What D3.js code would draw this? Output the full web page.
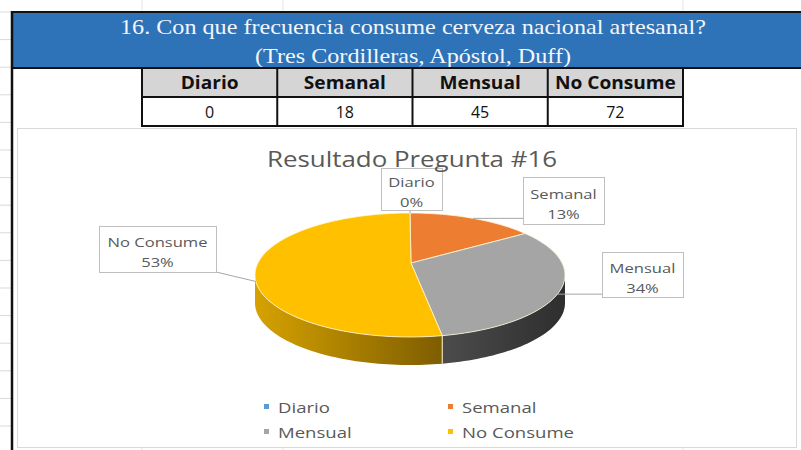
<!DOCTYPE html>
<meta charset="utf-8">
<style>
body { margin: 0; background: #fff; }
svg { display: block; }
.serif { font-family: "Liberation Serif", "Times New Roman", serif; }
.sans { font-family: "Open Sans", "Liberation Sans", sans-serif; }
</style>
<svg width="801" height="450"></svg>
<script src="https://d3js.org/d3.v7.min.js"></script>
<script>

var titleLines = ["16. Con que frecuencia consume cerveza nacional artesanal?", "(Tres Cordilleras, Apóstol, Duff)"];
var chartTitle = "Resultado Pregunta #16";
var categories = ["Diario", "Semanal", "Mensual", "No Consume"];
var counts = [0, 18, 45, 72];
var pctLabels = ["0%", "13%", "34%", "53%"];
var colors = ["#5B9BD5", "#ED7D31", "#A5A5A5", "#FFC000"];

var svg = d3.select("svg");

// stretch text horizontally so a reference string has the wanted width
function stretch(sel, refNode, target) {
  var k = target / refNode.getComputedTextLength();
  sel.each(function() {
    var w = this.getComputedTextLength();
    d3.select(this).attr("textLength", w * k).attr("lengthAdjust", "spacingAndGlyphs");
  });
}

// spreadsheet grid bits
var rowLines = d3.range(12, 450, 27.6);
svg.selectAll(".gridtick").data(rowLines).enter().append("line")
    .attr("x1", 0).attr("x2", 11).attr("y1", function(d) { return d; }).attr("y2", function(d) { return d; })
    .attr("stroke", "#d9d9d9");
[142, 283, 683].forEach(function(x) {
  svg.append("line").attr("x1", x).attr("x2", x).attr("y1", 0).attr("y2", 12).attr("stroke", "#e3e3e3");
  svg.append("line").attr("x1", x).attr("x2", x).attr("y1", 446).attr("y2", 450).attr("stroke", "#e3e3e3");
});

// blue header band
svg.append("rect").attr("x", 12).attr("y", 12).attr("width", 800).attr("height", 56).attr("fill", "#2E72B8");
svg.append("line").attr("x1", 12).attr("x2", 801).attr("y1", 12).attr("y2", 12).attr("stroke", "#111").attr("stroke-width", 2);
svg.append("line").attr("x1", 12).attr("x2", 801).attr("y1", 68).attr("y2", 68).attr("stroke", "#111").attr("stroke-width", 2);
svg.append("line").attr("x1", 12).attr("x2", 12).attr("y1", 11).attr("y2", 450).attr("stroke", "#111").attr("stroke-width", 2.5);

var tl = svg.selectAll(".tline").data(titleLines).enter().append("text")
    .attr("class", "serif")
    .attr("x", 413).attr("y", function(d, i) { return 34 + i * 29; })
    .attr("text-anchor", "middle").attr("font-size", 21).attr("fill", "#f4f6fb")
    .text(function(d) { return d; });
stretch(tl, tl.node(), 586);

// table
var colX = d3.scaleBand().domain(categories).range([142, 683]);
svg.selectAll(".hcell").data(categories).enter().append("rect")
    .attr("x", function(d) { return colX(d); }).attr("y", 68)
    .attr("width", colX.bandwidth()).attr("height", 29)
    .attr("fill", "#d5d5d5");
var hdr = svg.selectAll(".htext").data(categories).enter().append("text")
    .attr("class", "sans")
    .attr("x", function(d) { return colX(d) + colX.bandwidth() / 2; }).attr("y", 89)
    .attr("text-anchor", "middle").attr("font-size", 17).attr("font-weight", "bold").attr("fill", "#111")
    .text(function(d) { return d; });
stretch(hdr, hdr.nodes()[3], 121);
svg.selectAll(".vtext").data(counts).enter().append("text")
    .attr("class", "sans")
    .attr("x", function(d, i) { return colX(categories[i]) + colX.bandwidth() / 2; }).attr("y", 118)
    .attr("text-anchor", "middle").attr("font-size", 16).attr("fill", "#111")
    .text(function(d) { return d; });
svg.append("rect").attr("x", 142).attr("y", 68).attr("width", 541).attr("height", 58)
    .attr("fill", "none").attr("stroke", "#111").attr("stroke-width", 2);
svg.append("line").attr("x1", 142).attr("x2", 683).attr("y1", 97).attr("y2", 97).attr("stroke", "#111").attr("stroke-width", 2);
svg.selectAll(".csep").data(categories.slice(1)).enter().append("line")
    .attr("x1", function(d) { return colX(d); }).attr("x2", function(d) { return colX(d); })
    .attr("y1", 68).attr("y2", 126).attr("stroke", "#111").attr("stroke-width", 2);

// chart frame
svg.append("rect").attr("x", 17.5).attr("y", 128.5).attr("width", 779).attr("height", 319)
    .attr("fill", "#fff").attr("stroke", "#d9d9d9");

// 3d pie
var cx = 410, cy = 275, rx = 155, ry = 62, depth = 28;
var apex = [cx + 1, cy - 12];
var pie = d3.pie().sort(null).value(function(d) { return d; });
var arcs = pie(counts);

function pt(a, dy) { return [cx + rx * Math.sin(a), cy - ry * Math.cos(a) + (dy || 0)]; }
function arcPts(a0, a1, dy) {
  var n = Math.max(2, Math.ceil((a1 - a0) / 0.03));
  return d3.range(n + 1).map(function(i) { return pt(a0 + (a1 - a0) * i / n, dy); });
}
var line = d3.line();

var defs = svg.append("defs");
var sideGrads = [
  ["#2f5f8a", "#3f6f9a"],
  ["#8a4210", "#a55020"],
  ["#2e2e2e", "#4a4a4a"],
  ["#d6a200", "#7a5a00"]
];
sideGrads.forEach(function(c, i) {
  var g = defs.append("linearGradient").attr("id", "side" + i).attr("gradientUnits", "userSpaceOnUse")
      .attr("x1", i === 3 ? cx - rx : cx + rx).attr("x2", cx + 40).attr("y1", 0).attr("y2", 0);
  g.append("stop").attr("offset", 0).attr("stop-color", c[0]);
  g.append("stop").attr("offset", 1).attr("stop-color", c[1]);
});

// front side walls (visible between 90deg and 270deg)
var sides = svg.append("g");
arcs.forEach(function(d, i) {
  var a0 = Math.max(d.startAngle, Math.PI / 2), a1 = Math.min(d.endAngle, 3 * Math.PI / 2);
  if (a1 <= a0) return;
  var top = arcPts(a0, a1, 0), bot = arcPts(a0, a1, depth).reverse();
  sides.append("path").attr("d", line(top.concat(bot)) + "Z")
      .attr("fill", "url(#side" + i + ")");
  if (a0 > Math.PI / 2) {
    var p = pt(a0);
    sides.append("line").attr("x1", p[0]).attr("x2", p[0]).attr("y1", p[1]).attr("y2", p[1] + depth)
        .attr("stroke", "#fff3c0").attr("stroke-width", 1);
  }
});

svg.append("g").selectAll("path").data(arcs).enter().append("path")
    .attr("d", function(d) { return line([apex].concat(arcPts(d.startAngle, d.endAngle, 0))) + "Z"; })
    .attr("fill", function(d, i) { return colors[i]; })
    .attr("stroke", "#fff6d8").attr("stroke-width", 0.8).attr("stroke-linejoin", "round");

// data labels
var labelBoxes = [
  {x: 381, y: 168, w: 61, h: 42},
  {x: 523, y: 177, w: 81, h: 47},
  {x: 602, y: 252, w: 81, h: 45},
  {x: 99, y: 226, w: 117, h: 46}
];
var labels = svg.append("g");
arcs.forEach(function(d, i) {
  var b = labelBoxes[i];
  var m = pt((d.startAngle + d.endAngle) / 2);
  var ex = m[0] < b.x ? b.x : (m[0] > b.x + b.w ? b.x + b.w : m[0]);
  var ey = m[1] < b.y ? b.y : (m[1] > b.y + b.h ? b.y + b.h : m[1]);
  labels.append("line").attr("x1", m[0]).attr("y1", m[1]).attr("x2", ex).attr("y2", ey)
      .attr("stroke", "#a6a6a6");
});
labels.selectAll("rect").data(labelBoxes).enter().append("rect")
    .attr("x", function(d) { return d.x + 0.5; }).attr("y", function(d) { return d.y + 0.5; })
    .attr("width", function(d) { return d.w; }).attr("height", function(d) { return d.h; })
    .attr("fill", "#fff").attr("stroke", "#bfbfbf");
var lt = labels.selectAll(".lt").data(categories).enter().append("text")
    .attr("class", "sans").attr("text-anchor", "middle").attr("font-size", 13.5).attr("fill", "#595959")
    .attr("x", function(d, i) { return labelBoxes[i].x + labelBoxes[i].w / 2; })
    .attr("y", function(d, i) { return labelBoxes[i].y + labelBoxes[i].h / 2 - 2; });
lt.append("tspan").text(function(d) { return d; });
lt.append("tspan").attr("x", function(d, i) { return labelBoxes[i].x + labelBoxes[i].w / 2; }).attr("dy", 20)
    .text(function(d, i) { return pctLabels[i]; });
var ltNames = lt.selectAll("tspan");
stretch(ltNames, lt.nodes()[3].firstChild, 100);

// chart title
var ct = svg.append("text").attr("class", "sans")
    .attr("x", 412).attr("y", 167).attr("text-anchor", "middle")
    .attr("font-size", 21).attr("fill", "#595959").text(chartTitle);
stretch(ct, ct.node(), 290);

// legend
var legX = [264, 448], legY = [407, 432];
var leg = svg.append("g").selectAll("g").data(categories).enter().append("g")
    .attr("transform", function(d, i) { return "translate(" + legX[i % 2] + "," + legY[Math.floor(i / 2)] + ")"; });
leg.append("rect").attr("x", 0).attr("y", -3).attr("width", 5).attr("height", 5)
    .attr("fill", function(d, i) { return colors[i]; });
var legText = leg.append("text").attr("class", "sans").attr("x", 14).attr("y", 5.5)
    .attr("font-size", 15).attr("fill", "#595959").text(function(d) { return d; });
stretch(legText, legText.nodes()[3], 112);

</script>
